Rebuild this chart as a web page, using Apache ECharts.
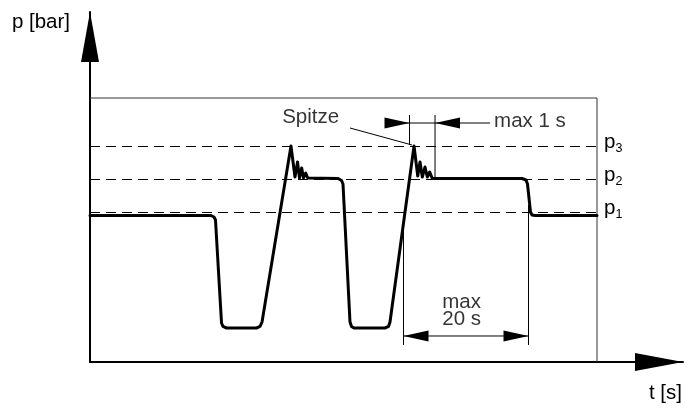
<!DOCTYPE html>
<html>
<head>
<meta charset="utf-8">
<script src="https://cdn.jsdelivr.net/npm/echarts@6/dist/echarts.min.js"></script>
<style>
html,body{margin:0;padding:0;background:#fff;}
#chart{width:697px;height:410px;}
</style>
</head>
<body>
<div id="chart"></div>
<script>
// ---- data (schematic units: frame spans 0..100 on both axes) ----
const tEnd = 116.96;          // x-axis (time) extends beyond the frame to the arrow tip
const pEnd = 132.58;          // y-axis (pressure) extends beyond the frame to the arrow tip
const frameT = 100;
const frameP = 100;

// pressure trace
const traceT = [0, 23.87, 24.46, 24.75, 25.94, 26.23, 26.92, 32.84, 33.53, 33.93,
  39.64, 40.43, 40.93, 41.32, 41.75, 42.11, 42.54, 42.94, 43.20, 48.92, 49.61, 49.90,
  51.28, 51.58, 52.07, 58.19, 58.88, 59.17,
  63.91, 64.64, 65.09, 65.54, 66.07, 66.53, 67.00, 67.51, 68.05, 85.21, 86.00, 86.29,
  86.88, 87.18, 87.77, 100];
const traceP = [55.49, 55.49, 54.92, 53.79, 14.77, 13.45, 12.88, 12.88, 13.45, 15.15,
  81.82, 70.08, 75.76, 69.70, 73.48, 69.70, 71.59, 69.70, 69.51, 69.51, 68.75, 67.42,
  15.15, 13.45, 12.88, 12.88, 13.45, 15.15,
  81.82, 70.45, 75.76, 70.08, 73.86, 70.08, 71.97, 69.51, 69.51, 69.51, 68.94, 67.42,
  56.82, 55.68, 55.49, 55.49];

// reference pressure levels
const levelNames = ['1', '2', '3'];
const levelValues = [56.63, 69.13, 81.63];

// dimension / leader segments [t1, p1, t2, p2]
const segments = [
  [63.02, 93.56, 63.02, 82.20],   // "max 1 s" left extension
  [68.05, 93.56, 68.05, 69.70],   // "max 1 s" right extension
  [58.19, 90.53, 78.90, 90.53],   // "max 1 s" dimension line
  [51.28, 88.64, 63.51, 82.20],   // "Spitze" leader
  [61.83, 52.65, 61.83, 6.44],    // "max 20 s" left extension
  [86.49, 59.47, 86.49, 6.44],    // "max 20 s" right extension
  [61.83, 9.85, 86.49, 9.85]      // "max 20 s" dimension line
];
// arrow heads [tipT, tipP, direction(+1 points right, -1 points left)]
const arrowHeads = [
  [63.02, 90.53, 1],
  [68.05, 90.53, -1],
  [61.83, 9.85, -1],
  [86.49, 9.85, 1]
];
// annotation texts
const notes = [
  {text: 'Spitze', t: 37.9, p: 92.65, align: 'left'},
  {text: 'max 1 s', t: 79.7, p: 91.0, align: 'left'},
  {text: 'max\n20 s', t: 73.3, p: 19.36, align: 'center'}
];

const FONT = '"Liberation Sans", Arial, Helvetica, sans-serif';
const FS = 20.5;

const chart = echarts.init(document.getElementById('chart'), null, {renderer: 'canvas'});

const series = [];

// frame (top and right edges)
series.push({
  type: 'line', silent: true, symbol: 'none', animation: false,
  data: [[0, frameP], [frameT, frameP], [frameT, 0]],
  lineStyle: {color: '#333', width: 1},
  z: 1
});

// dashed reference levels with p-labels
levelValues.forEach((v, i) => {
  series.push({
    type: 'line', silent: true, symbol: 'none', animation: false,
    data: [[0, v], [frameT, v]],
    lineStyle: {color: '#000', width: 1, type: [10, 6]},
    endLabel: {
      show: true,
      distance: 7,
      offset: [0, -4],
      formatter: '{p|p}{s|' + levelNames[i] + '}',
      rich: {
        p: {fontFamily: FONT, fontSize: FS, color: '#000', lineHeight: 25, verticalAlign: 'middle'},
        s: {fontFamily: FONT, fontSize: 12.5, color: '#000', lineHeight: 13, verticalAlign: 'bottom'}
      }
    },
    z: 2
  });
});

// pressure trace
series.push({
  type: 'line', silent: true, symbol: 'none', animation: false,
  data: traceT.map((t, i) => [t, traceP[i]]),
  lineStyle: {color: '#000', width: 3, join: 'round', cap: 'round'},
  z: 5
});

// thin dimension lines
series.push({
  type: 'custom', silent: true, animation: false, clip: false,
  data: segments,
  renderItem: function (params, api) {
    const a = api.coord([api.value(0), api.value(1)]);
    const b = api.coord([api.value(2), api.value(3)]);
    return {type: 'line', shape: {x1: a[0], y1: a[1], x2: b[0], y2: b[1]},
      style: {stroke: '#000', lineWidth: 1}};
  },
  z: 4
});

// arrow heads
series.push({
  type: 'custom', silent: true, animation: false, clip: false,
  data: arrowHeads,
  renderItem: function (params, api) {
    const tip = api.coord([api.value(0), api.value(1)]);
    const d = api.value(2);
    const L = 25, W = 5.5;
    return {type: 'polygon', shape: {points: [
      [tip[0], tip[1]], [tip[0] - d * L, tip[1] - W], [tip[0] - d * L, tip[1] + W]
    ]}, style: {fill: '#000'}};
  },
  z: 6
});

// annotation texts
series.push({
  type: 'scatter', silent: true, animation: false,
  symbolSize: 1, itemStyle: {color: 'rgba(0,0,0,0)'},
  data: notes.map(n => ({
    value: [n.t, n.p],
    label: {
      show: true, position: 'inside', formatter: n.text,
      align: n.align, verticalAlign: 'middle',
      fontFamily: FONT, fontSize: FS, color: '#000', lineHeight: 17
    }
  })),
  z: 7
});

chart.setOption({
  animation: false,
  backgroundColor: '#fff',
  grid: {left: 90, top: 12, right: 14, bottom: 48, containLabel: false},
  xAxis: {
    type: 'value', min: 0, max: tEnd,
    name: 't [s]', nameLocation: 'end', nameGap: -1,
    nameTextStyle: {fontFamily: FONT, fontSize: FS, color: '#000', align: 'right',
      verticalAlign: 'top', lineHeight: 22, padding: [20, 0, 0, 0]},
    axisLine: {show: true, onZero: false, lineStyle: {color: '#000', width: 2},
      symbol: ['none', 'triangle'], symbolSize: [18, 48], symbolOffset: [0, -24]},
    axisTick: {show: false}, axisLabel: {show: false}, splitLine: {show: false}
  },
  yAxis: {
    type: 'value', min: 0, max: pEnd,
    name: 'p [bar]', nameLocation: 'end', nameGap: -10,
    nameTextStyle: {fontFamily: FONT, fontSize: FS, color: '#000', align: 'right',
      verticalAlign: 'middle', padding: [0, 20, 0, 0]},
    axisLine: {show: true, onZero: false, lineStyle: {color: '#000', width: 2},
      symbol: ['none', 'triangle'], symbolSize: [18, 50], symbolOffset: [0, -25]},
    axisTick: {show: false}, axisLabel: {show: false}, splitLine: {show: false}
  },
  series: series
});
</script>
</body>
</html>
